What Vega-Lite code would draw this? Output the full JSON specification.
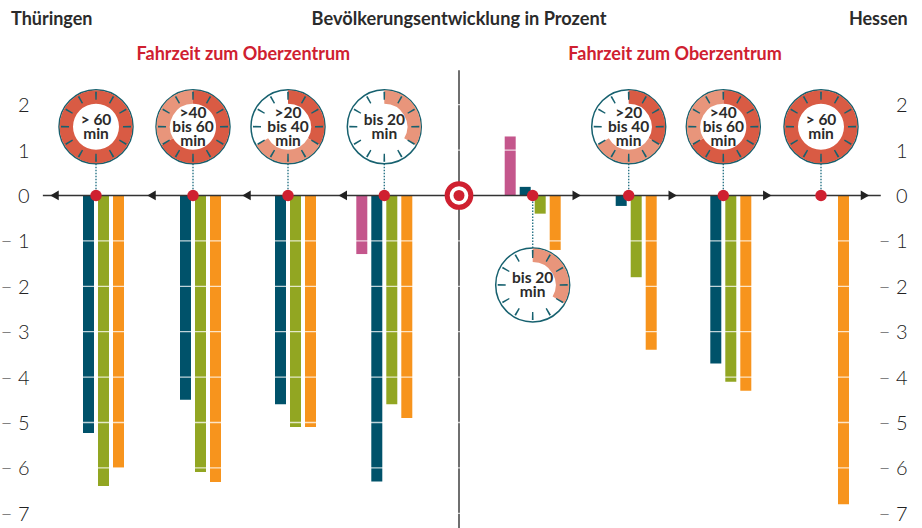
{
"$schema":"https://vega.github.io/schema/vega-lite/v6.json",
"width":844,"height":528,
"autosize":"none",
"padding":{"left":40,"right":38,"top":0,"bottom":0},
"background":"white",
"config":{"view":{"stroke":null},"font":"Lato"},
"datasets":{
"bars":[
{"group":1,"land":"Thüringen","fahrzeit":">60","serie":"B","wert":-5.23},
{"group":1,"land":"Thüringen","fahrzeit":">60","serie":"C","wert":-6.4},
{"group":1,"land":"Thüringen","fahrzeit":">60","serie":"D","wert":-6.0},
{"group":2,"land":"Thüringen","fahrzeit":">40-60","serie":"B","wert":-4.5},
{"group":2,"land":"Thüringen","fahrzeit":">40-60","serie":"C","wert":-6.09},
{"group":2,"land":"Thüringen","fahrzeit":">40-60","serie":"D","wert":-6.31},
{"group":3,"land":"Thüringen","fahrzeit":">20-40","serie":"B","wert":-4.6},
{"group":3,"land":"Thüringen","fahrzeit":">20-40","serie":"C","wert":-5.1},
{"group":3,"land":"Thüringen","fahrzeit":">20-40","serie":"D","wert":-5.1},
{"group":4,"land":"Thüringen","fahrzeit":"bis 20","serie":"A","wert":-1.29},
{"group":4,"land":"Thüringen","fahrzeit":"bis 20","serie":"B","wert":-6.3},
{"group":4,"land":"Thüringen","fahrzeit":"bis 20","serie":"C","wert":-4.6},
{"group":4,"land":"Thüringen","fahrzeit":"bis 20","serie":"D","wert":-4.9},
{"group":5,"land":"Hessen","fahrzeit":"bis 20","serie":"A","wert":1.3},
{"group":5,"land":"Hessen","fahrzeit":"bis 20","serie":"B","wert":0.19},
{"group":5,"land":"Hessen","fahrzeit":"bis 20","serie":"C","wert":-0.4},
{"group":5,"land":"Hessen","fahrzeit":"bis 20","serie":"D","wert":-1.2},
{"group":6,"land":"Hessen","fahrzeit":">20-40","serie":"B","wert":-0.23},
{"group":6,"land":"Hessen","fahrzeit":">20-40","serie":"C","wert":-1.8},
{"group":6,"land":"Hessen","fahrzeit":">20-40","serie":"D","wert":-3.4},
{"group":7,"land":"Hessen","fahrzeit":">40-60","serie":"B","wert":-3.7},
{"group":7,"land":"Hessen","fahrzeit":">40-60","serie":"C","wert":-4.1},
{"group":7,"land":"Hessen","fahrzeit":">40-60","serie":"D","wert":-4.3},
{"group":8,"land":"Hessen","fahrzeit":">60","serie":"D","wert":-6.8}
],
"clocks":[
{"group":1,"zeilen":2,"label":"> 60\nmin","stunden":[0,1,2,3,4,5,6,7,8,9,10,11]},
{"group":2,"zeilen":3,"label":">40\nbis 60\nmin","stunden":[0,1,2,3,4,5,6,7,8,9,10,11]},
{"group":3,"zeilen":3,"label":">20\nbis 40\nmin","stunden":[0,1,2,3,4,5,6,7,8,9,10,11]},
{"group":4,"zeilen":2,"label":"bis 20\nmin","stunden":[0,1,2,3,4,5,6,7,8,9,10,11]},
{"group":5,"zeilen":2,"label":"bis 20\nmin","stunden":[0,1,2,3,4,5,6,7,8,9,10,11]},
{"group":6,"zeilen":3,"label":">20\nbis 40\nmin","stunden":[0,1,2,3,4,5,6,7,8,9,10,11]},
{"group":7,"zeilen":3,"label":">40\nbis 60\nmin","stunden":[0,1,2,3,4,5,6,7,8,9,10,11]},
{"group":8,"zeilen":2,"label":"> 60\nmin","stunden":[0,1,2,3,4,5,6,7,8,9,10,11]}
],
"sectors":[
{"group":1,"von":0,"bis":12,"ton":"dunkel"},
{"group":2,"von":0,"bis":8,"ton":"dunkel"},
{"group":2,"von":8,"bis":12,"ton":"hell"},
{"group":3,"von":0,"bis":4,"ton":"dunkel"},
{"group":3,"von":4,"bis":8,"ton":"hell"},
{"group":4,"von":0,"bis":4,"ton":"hell"},
{"group":5,"von":0,"bis":4,"ton":"hell"},
{"group":6,"von":0,"bis":4,"ton":"dunkel"},
{"group":6,"von":4,"bis":8,"ton":"hell"},
{"group":7,"von":0,"bis":8,"ton":"dunkel"},
{"group":7,"von":8,"bis":12,"ton":"hell"},
{"group":8,"von":0,"bis":12,"ton":"dunkel"}
],
"arrows":[
{"group":1,"richtung":"links"},{"group":2,"richtung":"links"},{"group":3,"richtung":"links"},{"group":4,"richtung":"links"},
{"group":5,"richtung":"rechts"},{"group":6,"richtung":"rechts"},{"group":7,"richtung":"rechts"},{"group":8,"richtung":"rechts"}
],
"grid":[{"wert":-7,"group":0},{"wert":-6,"group":0},{"wert":-5,"group":0},{"wert":-4,"group":0},{"wert":-3,"group":0},{"wert":-2,"group":0},{"wert":-1,"group":0},{"wert":1,"group":0},{"wert":2,"group":0}]
},
"encoding":{
"x":{"field":"group","type":"quantitative","axis":null,"scale":{"domain":[0,1,2,3,4,4.5,5,6,7,8,9],"range":[0,56,153,248,344.3,419,492.7,588.7,683.3,781,844],"nice":false,"zero":false}},
"y":{"field":"wert","type":"quantitative","stack":null,"scale":{"domain":[-7.324,4.306],"nice":false,"zero":false},
"axis":{"orient":"left","title":null,"values":[-7,-6,-5,-4,-3,-2,-1,0,1,2],"grid":false,"domain":false,"ticks":false,"labelPadding":11,"labelOffset":1,"labelFontSize":20,"labelFont":"Lato","labelFontWeight":300,"labelColor":"#222222","labelExpr":"datum.value<0?'− '+abs(datum.value):datum.label"}}
},
"resolve":{"scale":{"y":"independent"},"axis":{"y":"independent"}},
"layer":[
{"layer":[
{"data":{"values":[{"group":4.5,"wert":2.76}]},"mark":{"type":"rule","color":"#6f6f6f","strokeWidth":2},"encoding":{"y2":{"datum":-7.324}}},
{"data":{"name":"bars"},"transform":[{"filter":"datum.serie=='A'"}],"mark":{"type":"bar","size":11,"orient":"vertical","xOffset":-22.5,"color":"#c4568c"}},
{"data":{"name":"bars"},"transform":[{"filter":"datum.serie=='B'"}],"mark":{"type":"bar","size":11,"orient":"vertical","xOffset":-7.5,"color":"#00526a"}},
{"data":{"name":"bars"},"transform":[{"filter":"datum.serie=='C'"}],"mark":{"type":"bar","size":11,"orient":"vertical","xOffset":7.5,"color":"#92a622"}},
{"data":{"name":"bars"},"transform":[{"filter":"datum.serie=='D'"}],"mark":{"type":"bar","size":11,"orient":"vertical","xOffset":22.5,"color":"#f7941d"}},
{"data":{"name":"grid"},"mark":{"type":"rule","color":"white","strokeWidth":1.3,"opacity":0.75},"encoding":{"x2":{"datum":9}}},
{"data":{"values":[{"group":0,"wert":0}]},"mark":{"type":"rule","color":"#333333","strokeWidth":1.6},"encoding":{"x2":{"datum":9}}},
{"data":{"name":"arrows"},"transform":[{"calculate":"datum.group==5?-1.156:0.7","as":"wert"}],"mark":{"type":"rule","color":"#2b7688","strokeWidth":1.4,"strokeDash":[1.5,1.5]},"encoding":{"y2":{"datum":0}}},
{"data":{"name":"clocks"},"transform":[{"calculate":"datum.group==5?-1.971:1.515","as":"wert"}],"mark":{"type":"point","filled":true,"fill":"white","stroke":"#17616f","strokeWidth":1.5,"opacity":1,"size":5476}},
{"data":{"name":"sectors"},"transform":[{"calculate":"datum.group==5?-1.971:1.515","as":"wert"}],"mark":{"type":"arc","radius":36.5,"radius2":23},
 "encoding":{"theta":{"field":"von","type":"quantitative","stack":null,"scale":{"domain":[0,12],"range":[0,6.28319]}},"theta2":{"field":"bis"},
 "color":{"field":"ton","type":"nominal","legend":null,"scale":{"domain":["dunkel","hell"],"range":["#d95b44","#e8957b"]}}}},
{"data":{"name":"clocks"},"transform":[{"calculate":"datum.group==5?-1.971:1.515","as":"wert"},{"flatten":["stunden"],"as":["stunde"]},{"calculate":"datum.stunde-0.048","as":"t0"},{"calculate":"datum.stunde+0.048","as":"t1"}],"mark":{"type":"arc","radius":35,"radius2":27,"color":"#17616f"},
 "encoding":{"theta":{"field":"t0","type":"quantitative","stack":null,"scale":{"domain":[0,12],"range":[0,6.28319]}},"theta2":{"field":"t1"}}},
{"data":{"name":"clocks"},"transform":[{"filter":"datum.zeilen==2"},{"calculate":"datum.group==5?-1.971:1.515","as":"wert"}],"mark":{"type":"text","lineBreak":"\n","lineHeight":14,"dy":-6.5,"fontSize":15.5,"fontWeight":700,"color":"#2b2b2b","baseline":"middle","align":"center","font":"Lato"},"encoding":{"text":{"field":"label"}}},
{"data":{"name":"clocks"},"transform":[{"filter":"datum.zeilen==3"},{"calculate":"datum.group==5?-1.971:1.515","as":"wert"}],"mark":{"type":"text","lineBreak":"\n","lineHeight":14,"dy":-13.5,"fontSize":15.5,"fontWeight":700,"color":"#2b2b2b","baseline":"middle","align":"center","font":"Lato"},"encoding":{"text":{"field":"label"}}},
{"data":{"name":"arrows"},"transform":[{"filter":"datum.richtung=='links'"},{"calculate":"0","as":"wert"}],"mark":{"type":"point","shape":"triangle-left","filled":true,"opacity":1,"color":"#222222","size":95,"xOffset":-41.5}},
{"data":{"name":"arrows"},"transform":[{"filter":"datum.richtung=='rechts'"},{"calculate":"0","as":"wert"}],"mark":{"type":"point","shape":"triangle-right","filled":true,"opacity":1,"color":"#222222","size":95,"xOffset":44}},
{"data":{"name":"arrows"},"transform":[{"calculate":"0","as":"wert"}],"mark":{"type":"point","filled":true,"opacity":1,"color":"#cf2030","size":130}},
{"data":{"values":[{"group":4.5,"wert":0}]},"mark":{"type":"point","filled":true,"opacity":1,"fill":"white","stroke":"#cf2030","strokeWidth":5,"size":560}},
{"data":{"values":[{"group":4.5,"wert":0}]},"mark":{"type":"point","filled":true,"opacity":1,"color":"#cf2030","size":121}},
{"data":{"values":[{"group":-0.6,"wert":3.866,"t":"Thüringen"}]},"mark":{"type":"text","align":"left","baseline":"middle","fontSize":18,"fontWeight":700,"color":"#2b2b2b"},"encoding":{"text":{"field":"t"}}},
{"data":{"values":[{"group":4.5,"wert":3.866,"t":"Bevölkerungsentwicklung in Prozent"}]},"mark":{"type":"text","align":"center","baseline":"middle","fontSize":18.2,"fontWeight":700,"color":"#2b2b2b"},"encoding":{"text":{"field":"t"}}},
{"data":{"values":[{"group":9.45,"wert":3.866,"t":"Hessen"}]},"mark":{"type":"text","align":"right","baseline":"middle","fontSize":18,"fontWeight":700,"color":"#2b2b2b"},"encoding":{"text":{"field":"t"}}},
{"data":{"values":[{"group":2.53,"wert":3.095,"t":"Fahrzeit zum Oberzentrum"},{"group":6.49,"wert":3.095,"t":"Fahrzeit zum Oberzentrum"}]},"mark":{"type":"text","align":"center","baseline":"middle","fontSize":18,"fontWeight":700,"color":"#cf2030"},"encoding":{"text":{"field":"t"}}}
]},
{"data":{"name":"grid"},"mark":{"type":"point","opacity":0},
 "encoding":{"y":{"field":"wert","type":"quantitative","scale":{"domain":[-7.324,4.306],"nice":false,"zero":false},
 "axis":{"orient":"right","title":null,"values":[-7,-6,-5,-4,-3,-2,-1,0,1,2],"grid":false,"domain":false,"ticks":false,"labelAlign":"right","labelPadding":23,"labelOffset":1,"labelFontSize":20,"labelFont":"Lato","labelFontWeight":300,"labelColor":"#222222","labelExpr":"datum.value<0?'− '+abs(datum.value):datum.label"}}}}
]
}
